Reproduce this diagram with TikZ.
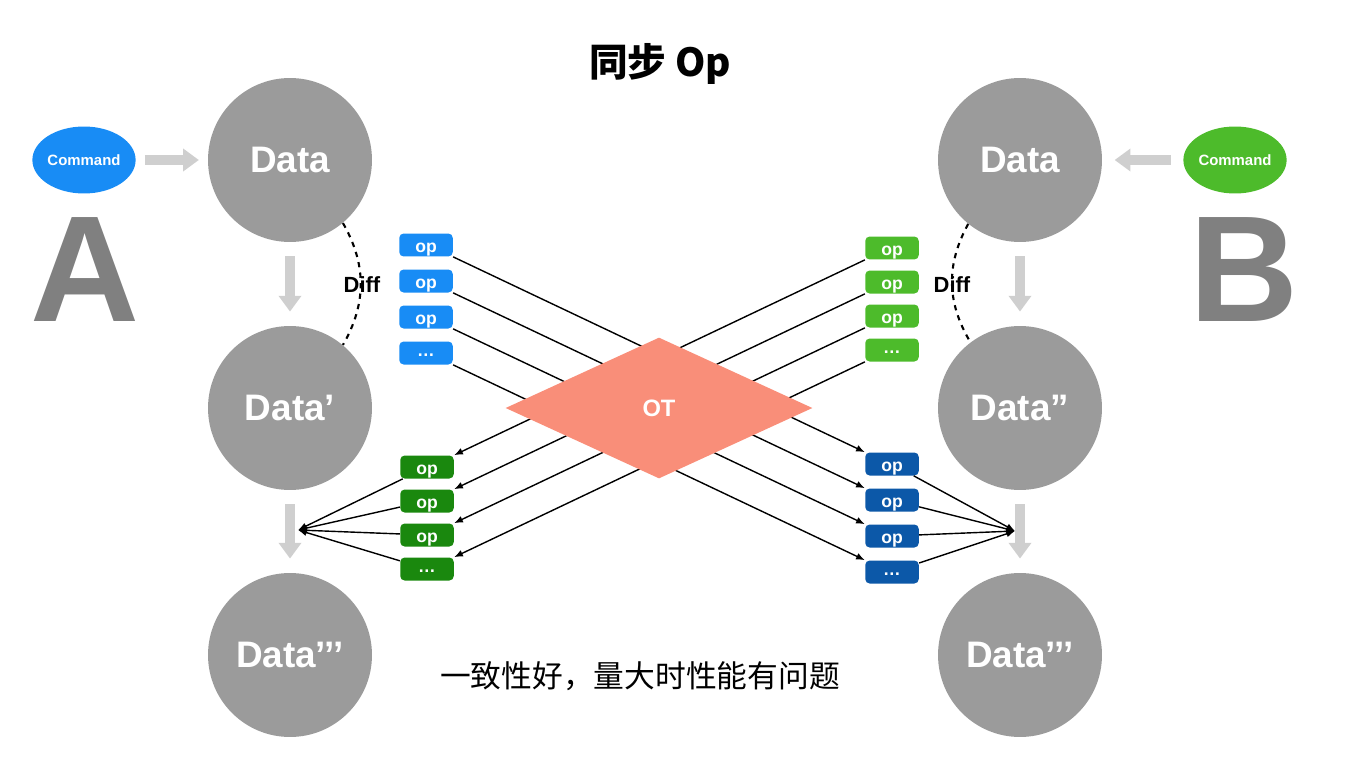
\documentclass[tikz,border=0pt]{standalone}
\usepackage{fontspec}
\setmainfont{Liberation Sans}
\newfontfamily\cjk{Noto Sans CJK SC}
\usetikzlibrary{shapes.geometric,arrows.meta}
\definecolor{cmdblue}{RGB}{24,140,245}
\definecolor{cmdgreen}{RGB}{77,187,43}
\definecolor{opgreen}{RGB}{26,136,14}
\definecolor{opblue}{RGB}{12,88,168}
\definecolor{datagray}{RGB}{155,155,155}
\definecolor{lettergray}{RGB}{128,128,128}
\definecolor{flowgray}{RGB}{207,207,207}
\definecolor{otsalmon}{RGB}{249,142,121}
\newcommand{\opdots}{\raisebox{2pt}{\ldots}}
\tikzset{
	data/.style={circle, fill=datagray, text=white, minimum size=3.28cm, inner sep=0, font=\fontsize{21}{25}\selectfont\bfseries},
	cmd/.style={ellipse, fill=#1, text=white, minimum width=2cm, minimum height=1.34cm, inner sep=0, font=\fontsize{8.5}{10}\selectfont\bfseries},
	opbox/.style={rectangle, rounded corners=2.5pt, fill=#1, text=white, minimum width=1.07cm, minimum height=0.46cm, inner sep=0, text height=8.4pt, text depth=0pt, font=\fontsize{10}{12}\selectfont\bfseries},
	otbox/.style={diamond, fill=otsalmon, text=white, minimum width=6.14cm, minimum height=2.82cm, inner sep=0, font=\fontsize{13.5}{16}\selectfont\bfseries},
	flow/.style={flowgray, line width=5.7pt, -{Triangle[width=12.5pt,length=9pt]}, shorten <=#1, shorten >=#1},
	flow/.default=8pt,
	diff/.style={line width=1.2pt, dash pattern=on 3pt off 3pt},
	big/.style={text=lettergray, font=\fontsize{86}{90}\selectfont\bfseries},
	link/.style={line width=0.8pt, -{Latex[length=5pt,width=4pt]}}
}
\begin{document}
\begin{tikzpicture}[x=0.02cm, y=-0.02cm]
		\useasboundingbox (0,0) rectangle (1362,784);
		%title
		\node (title) at (660,64) [font=\cjk\bfseries\fontsize{22}{26}\selectfont]{同步 Op};
		
		%side A
		\node (cmdA) at (84,160) [cmd=cmdblue]{Command};
		\node (dataA1) at (290,160) [data]{Data};
		\node (dataA2) at (290,408) [data]{Data’};
		\node (dataA3) at (290,655) [data]{Data’’’};
		\node (letterA) at (85,270) [big]{A};
		\draw[flow=5pt] (cmdA) -- (dataA1);
		\draw[flow] (dataA1) -- (dataA2);
		\draw[flow] (dataA2) -- (dataA3);
		\draw[diff] (dataA1.-50) to[bend left=30] (dataA2.50);
		\node (diffA) at (362,285) [font=\fontsize{12.5}{15}\selectfont\bfseries]{Diff};
		
		%side B
		\node (cmdB) at (1235,160) [cmd=cmdgreen]{Command};
		\node (dataB1) at (1020,160) [data]{Data};
		\node (dataB2) at (1020,408) [data]{Data”};
		\node (dataB3) at (1020,655) [data]{Data’’’};
		\node (letterB) at (1244,270) [big]{B};
		\draw[flow=7pt] (cmdB) -- (dataB1);
		\draw[flow] (dataB1) -- (dataB2);
		\draw[flow] (dataB2) -- (dataB3);
		\draw[diff] (dataB1.-129) to[bend right=30] (dataB2.127);
		\node (diffB) at (952,285) [font=\fontsize{12.5}{15}\selectfont\bfseries]{Diff};
		
		%ops
		\foreach \i/\y/\t in {1/245/op, 2/281/op, 3/317/op, 4/353/\opdots}{
			\node (opa\i) at (426,\y) [opbox=cmdblue]{\t};
		}
		\foreach \i/\y/\t in {1/248/op, 2/282/op, 3/316/op, 4/350/\opdots}{
			\node (opb\i) at (892,\y) [opbox=cmdgreen]{\t};
		}
		\foreach \i/\y/\t in {1/467/op, 2/501/op, 3/535/op, 4/569/\opdots}{
			\node (ta\i) at (427,\y) [opbox=opgreen]{\t};
		}
		\foreach \i/\y/\t in {1/464/op, 2/500/op, 3/536/op, 4/572/\opdots}{
			\node (tb\i) at (892,\y) [opbox=opblue]{\t};
		}
		
		%transform
		\foreach \i in {1,...,4}{
			\draw[link] (opa\i.south east) -- (tb\i.north west);
			\draw[link] (opb\i.south west) -- (ta\i.north east);
		}
		\node (ot) at (659,408) [otbox]{OT};
		
		%apply
		\coordinate (fanA) at (298,530);
		\coordinate (fanB) at (1015,531);
		\foreach \i in {1,...,4}{
			\draw[link] (ta\i) -- (fanA);
			\draw[link] (tb\i) -- (fanB);
		}
		
		\node (note) at (640,676) [font=\cjk\fontsize{17.5}{21}\selectfont]{一致性好，量大时性能有问题};
\end{tikzpicture}
\end{document}
